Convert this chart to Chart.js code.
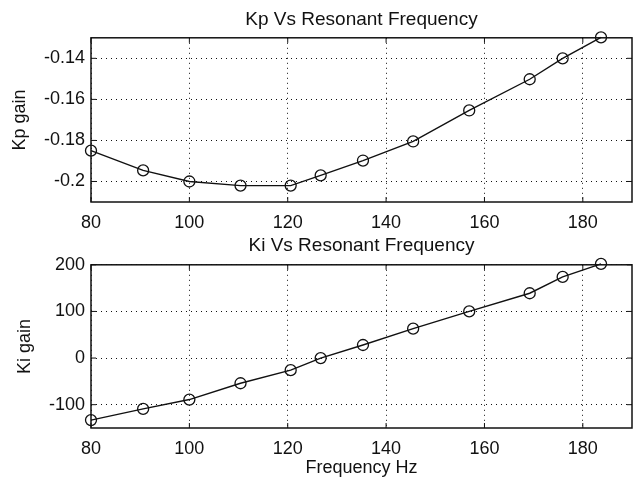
<!DOCTYPE html>
<html>
<head>
<meta charset="utf-8">
<script src="https://cdn.jsdelivr.net/npm/chart.js@4/dist/chart.umd.min.js"></script>
<style>
  body { margin: 0; background: #fff; }
  #wrap { position: relative; width: 633px; height: 479px; background: #fff; }
  .pane { position: absolute; left: 0; width: 633px; }
</style>
</head>
<body>
<div id="wrap">
  <div class="pane" style="top:0;height:228px"><canvas id="kp" width="633" height="228"></canvas></div>
  <div class="pane" style="top:228px;height:251px"><canvas id="ki" width="633" height="251"></canvas></div>
</div>
<script>
// values
const freqHz = [80, 90.6, 100, 110.4, 120.6, 126.7, 135.3, 145.5, 156.9, 169.2, 175.9, 183.7];
const kpGain = [-0.185, -0.1946, -0.2, -0.202, -0.202, -0.197, -0.1898, -0.1805, -0.1654, -0.1502, -0.14, -0.1298];
const kiGain = [-133, -109, -89, -54, -26, 0, 28, 63, 100, 139, 174, 202];

const freqTicks = [80, 100, 120, 140, 160, 180];
const kpTicks = [-0.2, -0.18, -0.16, -0.14];
const kiTicks = [-100, 0, 100, 200];

const INK = "#111";
const FONT = "'Liberation Sans', Arial, sans-serif";

// box around the axes + inward tick marks (matlab style)
const framePlugin = {
  id: "frame",
  beforeDatasetsDraw(chart) {
    const a = chart.chartArea;
    const c = chart.ctx;
    const xs = chart.scales.x;
    const ys = chart.scales.y;
    c.save();
    c.strokeStyle = INK;
    c.lineWidth = 1.5;
    c.setLineDash([]);
    c.strokeRect(a.left, a.top, a.right - a.left, a.bottom - a.top);
    c.lineWidth = 1;
    c.beginPath();
    xs.ticks.forEach((t) => {
      const px = xs.getPixelForValue(t.value);
      c.moveTo(px, a.bottom); c.lineTo(px, a.bottom - 5);
      c.moveTo(px, a.top); c.lineTo(px, a.top + 5);
    });
    ys.ticks.forEach((t) => {
      const py = ys.getPixelForValue(t.value);
      c.moveTo(a.left, py); c.lineTo(a.left + 5, py);
      c.moveTo(a.right, py); c.lineTo(a.right - 5, py);
    });
    c.stroke();
    c.restore();
  },
};

function makeChart(id, values, yTicks, yMin, yMax, title, titlePad, yTitle, yTitlePad, xTitle, xAxisHeight) {
  const pts = freqHz.map((f, i) => ({ x: f, y: values[i] }));
  return new Chart(document.getElementById(id), {
    type: "scatter",
    data: {
      datasets: [
        {
          data: pts,
          showLine: true,
          borderColor: INK,
          borderWidth: 1.4,
          pointRadius: 5.5,
          pointBorderWidth: 1.3,
          pointBorderColor: INK,
          pointBackgroundColor: "rgba(0,0,0,0)",
          clip: false,
        },
      ],
    },
    options: {
      responsive: false,
      animation: false,
      devicePixelRatio: 1,
      layout: { autoPadding: false, padding: { left: 0, right: 1, top: 0, bottom: 0 } },
      plugins: {
        legend: { display: false },
        tooltip: { enabled: false },
        title: {
          display: true,
          text: title,
          fullSize: false,
          color: INK,
          font: { family: FONT, size: 19, weight: "normal" },
          padding: titlePad,
        },
      },
      scales: {
        x: {
          type: "linear",
          min: 80,
          max: 190,
          afterBuildTicks: (s) => { s.ticks = freqTicks.map((v) => ({ value: v })); },
          afterFit: (s) => { s.height = xAxisHeight; },
          grid: { color: INK, lineWidth: 1, drawTicks: false },
          border: { display: false, dash: [1, 4] },
          ticks: { color: INK, padding: 10, maxRotation: 0, font: { family: FONT, size: 18 } },
          title: {
            display: !!xTitle,
            text: xTitle,
            color: INK,
            font: { family: FONT, size: 18 },
            padding: { top: 0, bottom: 0 },
          },
        },
        y: {
          type: "linear",
          min: yMin,
          max: yMax,
          afterBuildTicks: (s) => { s.ticks = yTicks.map((v) => ({ value: v })); },
          afterFit: (s) => { s.width = 91; },
          grid: { color: INK, lineWidth: 1, drawTicks: false },
          border: { display: false, dash: [1, 4] },
          ticks: {
            color: INK,
            padding: 6,
            font: { family: FONT, size: 18 },
            callback: (v) => String(v),
          },
          title: {
            display: true,
            text: yTitle,
            color: INK,
            font: { family: FONT, size: 18 },
            padding: { top: yTitlePad, bottom: 0 },
          },
        },
      },
    },
    plugins: [framePlugin],
  });
}

makeChart("kp", kpGain, kpTicks, -0.21, -0.13, "Kp Vs Resonant Frequency", { top: 8, bottom: 7 },
  "Kp gain", 9, "", 26);
makeChart("ki", kiGain, kiTicks, -150, 200, "Ki Vs Resonant Frequency", { top: 6, bottom: 8 },
  "Ki gain", 14, "Frequency Hz", 51);
</script>
</body>
</html>
